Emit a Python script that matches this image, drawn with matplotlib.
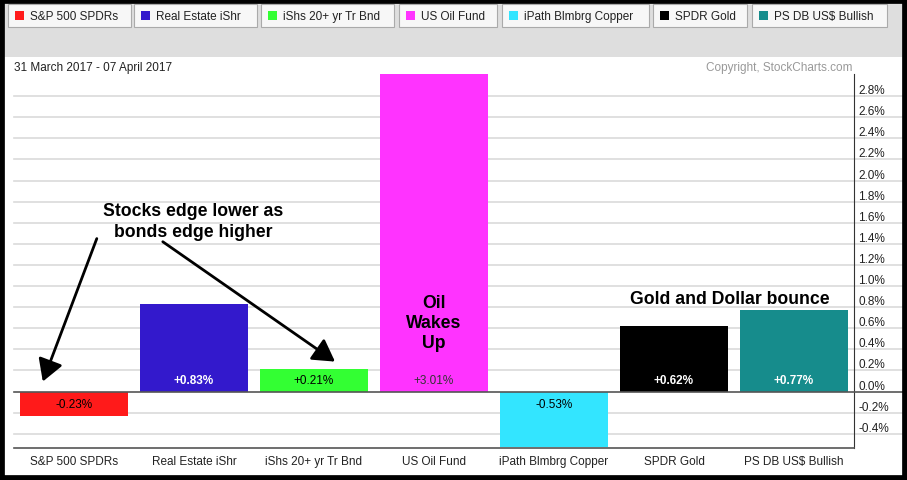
import matplotlib.pyplot as plt
from matplotlib.patches import Rectangle

plt.rcParams['font.family'] = ['Liberation Sans', 'DejaVu Sans']

names = ["S&P 500 SPDRs", "Real Estate iShr", "iShs 20+ yr Tr Bnd", "US Oil Fund",
         "iPath Blmbrg Copper", "SPDR Gold", "PS DB US$ Bullish"]
changes = [-0.23, 0.83, 0.21, 3.01, -0.53, 0.62, 0.77]
colors = ["#FF1A1A", "#3319CC", "#33FF33", "#FF33FF", "#33E5FF", "#000000", "#168C8C"]
label_colors = ["black", "white", "black", "#333333", "black", "white", "white"]
label_bold = [False, True, False, False, False, True, True]
ticks = [-0.4, -0.2, 0.0, 0.2, 0.4, 0.6, 0.8, 1.0, 1.2, 1.4, 1.6, 1.8, 2.0, 2.2, 2.4, 2.6, 2.8]

W, H = 907, 481
fig = plt.figure(figsize=(W / 100, H / 100), dpi=100)
fig.patch.set_facecolor("white")

# grey header band + legend boxes
fig.patches.append(Rectangle((4 / W, 1 - 58 / H), 899 / W, 54 / H, transform=fig.transFigure,
                             facecolor="#DEDEDE", edgecolor="none", zorder=0))
box_x = [8, 134, 261, 399, 502, 653, 752]
box_w = [123, 123, 133, 98, 147, 94, 135]
for bx, bw, c, n in zip(box_x, box_w, colors, names):
    fig.patches.append(Rectangle((bx / W, 1 - 28 / H), bw / W, 23 / H, transform=fig.transFigure,
                                 facecolor="#F7F7F7", edgecolor="#AAAAAA", lw=0.8, zorder=1))
    fig.patches.append(Rectangle(((bx + 7) / W, 1 - 21 / H), 9 / W, 9 / H, transform=fig.transFigure,
                                 facecolor=c, edgecolor="none", zorder=2))
    fig.text((bx + 22) / W, 1 - 17 / H, n, fontsize=8.5, va="center", ha="left", color="#222222")

fig.text(14 / W, 1 - 68 / H, "31 March 2017 - 07 April 2017", fontsize=8.5, va="center", color="#222222")
fig.text(852 / W, 1 - 68 / H, "Copyright, StockCharts.com", fontsize=8.5, va="center", ha="right",
         color="#999999")

# outer black frame
fig.patches.append(Rectangle((0, 0), 1, 1, transform=fig.transFigure, facecolor="none",
                             edgecolor="black", lw=7, zorder=10))

ax = fig.add_axes([14 / W, 1 - 449 / H, 840 / W, 374 / H])
x = range(len(names))
ax.bar(x, changes, width=0.9, color=colors, zorder=2)
ax.set_xlim(-0.5, 6.5)
ax.set_ylim(-0.535, 3.01)

for t in ticks:
    ax.axhline(t, xmin=0, xmax=1.06, color="#DADADA" if t != 0 else "#555555",
               lw=1.2, clip_on=False, zorder=1 if t != 0 else 3)

for xi, v, lc, b in zip(x, changes, label_colors, label_bold):
    yy = 0.11 if v > 0 else -0.12
    ax.text(xi, yy, f"{v:+.2f}%", ha="center", va="center", fontsize=8.5, color=lc,
            fontweight="bold" if b else "normal", zorder=4)

ax.yaxis.tick_right()
ax.set_yticks(ticks)
ax.set_yticklabels([f"{t:.1f}%" for t in ticks])
ax.tick_params(axis="y", length=0, pad=3, labelsize=8.5, labelcolor="#222222")
for lbl in ax.get_yticklabels():
    lbl.set_va("bottom")
ax.set_xticks(list(x))
ax.set_xticklabels(names)
ax.tick_params(axis="x", length=0, pad=5, labelsize=8.5, labelcolor="#222222")

for s in ["top", "left"]:
    ax.spines[s].set_visible(False)
ax.spines["right"].set_color("#333333")
ax.spines["bottom"].set_color("#555555")
ax.spines["bottom"].set_linewidth(1.2)

# annotations
arrow = dict(arrowstyle="-|>,head_length=0.6,head_width=0.35", lw=2, color="black",
             mutation_scale=22, shrinkA=0, shrinkB=0)
ax.annotate("", xy=(-0.26, 0.095), xytext=(0.19, 1.45), arrowprops=arrow, zorder=5)
ax.annotate("", xy=(2.175, 0.284), xytext=(0.74, 1.42), arrowprops=arrow, zorder=5)
ax.text(0.99, 1.615, "Stocks edge lower as\nbonds edge higher", ha="center", va="center",
        fontsize=12.7, fontweight="bold", linespacing=1.3)
ax.text(3.0, 0.655, "Oil\nWakes\nUp", ha="center", va="center", fontsize=12.7,
        fontweight="bold", linespacing=1.2)
ax.text(5.467, 0.88, "Gold and Dollar bounce", ha="center", va="center", fontsize=12.7,
        fontweight="bold")

fig.savefig("out.png", dpi=100)
